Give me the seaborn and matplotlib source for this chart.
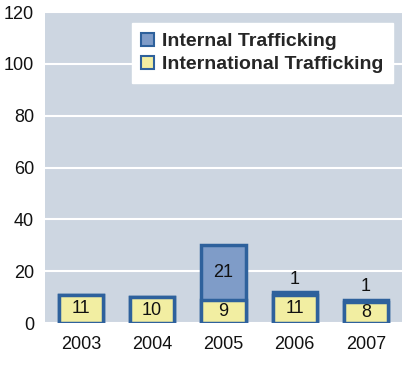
import matplotlib
matplotlib.use("Agg")
import matplotlib.pyplot as plt
import seaborn as sns
import pandas as pd
from matplotlib.patches import Patch

years = ["2003", "2004", "2005", "2006", "2007"]
international = [11, 10, 9, 11, 8]
internal = [0, 0, 21, 1, 1]

df = pd.DataFrame({"year": years, "international": international, "internal": internal})
df["total"] = df["international"] + df["internal"]

sns.set_style("white")
plt.rcParams["font.family"] = ["Liberation Sans", "DejaVu Sans"]

blue = "#7f9cc8"
yellow = "#f2eea2"
edge = "#2e619c"

fig = plt.figure(figsize=(4.07, 3.66), dpi=100)
ax = fig.add_axes([0.111, 0.117, 0.876, 0.85])
ax.set_facecolor("#cdd6e1")

sns.barplot(data=df, x="year", y="total", color=blue, edgecolor=edge,
            linewidth=2.5, width=0.62, saturation=1, ax=ax, zorder=3)
sns.barplot(data=df, x="year", y="international", color=yellow, edgecolor=edge,
            linewidth=2.5, width=0.62, saturation=1, ax=ax, zorder=4)

# value labels
for i, row in df.iterrows():
    ax.text(i, row["international"] / 2, str(row["international"]), ha="center",
            va="center", fontsize=13, color="#111111", zorder=6)
    if row["internal"] > 5:
        ax.text(i, row["international"] + row["internal"] / 2, str(row["internal"]),
                ha="center", va="center", fontsize=13, color="#111111", zorder=6)
    elif row["internal"] > 0:
        ax.text(i, row["total"] + 5, str(row["internal"]), ha="center",
                va="center", fontsize=13, color="#111111", zorder=6)

ax.set_ylim(0, 120)
ax.set_yticks(range(0, 121, 20))
ax.yaxis.grid(True, color="white", linewidth=1.5, zorder=0)
ax.set_axisbelow(True)
ax.set_xlim(-0.5, 4.5)
ax.set_xlabel("")
ax.set_ylabel("")
ax.tick_params(axis="both", length=0, labelsize=13, colors="#111111")
ax.tick_params(axis="x", pad=9)
ax.tick_params(axis="y", pad=8)
for s in ax.spines.values():
    s.set_visible(False)

handles = [Patch(facecolor=blue, edgecolor=edge, linewidth=1.5, label="Internal Trafficking"),
           Patch(facecolor=yellow, edgecolor=edge, linewidth=1.5, label="International Trafficking")]
leg = ax.legend(handles=handles, loc="upper right", bbox_to_anchor=(0.975, 0.965),
                frameon=True, fancybox=False, framealpha=1, edgecolor="white",
                prop={"weight": "bold", "size": 14}, handlelength=0.65,
                handleheight=0.65, handletextpad=0.4, labelspacing=0.3,
                borderpad=0.5, borderaxespad=0)
leg.set_zorder(10)

fig.savefig("out.png", dpi=100)
